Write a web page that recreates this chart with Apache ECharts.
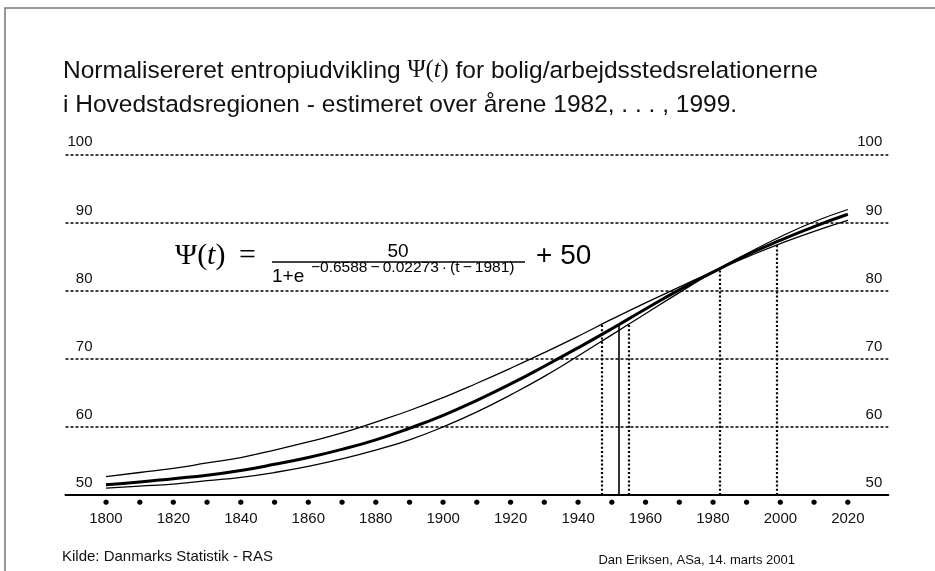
<!DOCTYPE html>
<html>
<head>
<meta charset="utf-8">
<title>Normaliseret entropiudvikling</title>
<script src="https://cdn.jsdelivr.net/npm/echarts@6/dist/echarts.min.js"></script>
<style>
html, body, #main {width: 100%; height: 100%; margin: 0; background: #fff; overflow: hidden;}
</style>
</head>
<body>
<div id="main"></div>
<script>
// hvert 10. år
var years = [1800, 1810, 1820, 1830, 1840, 1850, 1860, 1870, 1880, 1890, 1900, 1910,
             1920, 1930, 1940, 1950, 1960, 1970, 1980, 1990, 2000, 2010, 2020];
// den tykke kurve (estimatet)
var psiFit = [51.5, 51.9, 52.4, 52.9, 53.6, 54.5, 55.5, 56.7, 58.1, 59.8, 61.7, 63.9,
              66.3, 68.9, 71.6, 74.4, 77.3, 80.1, 82.7, 85.2, 87.4, 89.4, 91.2];
// tynd kurve, øverst i venstre side
var psiUpper = [52.7, 53.3, 53.9, 54.7, 55.5, 56.6, 57.8, 59.1, 60.7, 62.4, 64.3, 66.4,
                68.6, 70.9, 73.3, 75.8, 78.2, 80.5, 82.8, 84.9, 86.9, 88.7, 90.3];
// tynd kurve, nederst i venstre side
var psiLower = [51.0, 51.3, 51.6, 52.1, 52.6, 53.3, 54.2, 55.3, 56.6, 58.1, 60.0, 62.2,
                64.7, 67.4, 70.4, 73.5, 76.6, 79.7, 82.7, 85.4, 87.9, 90.1, 91.9];
var tickYears = [1800, 1810, 1820, 1830, 1840, 1850, 1860, 1870, 1880, 1890, 1900, 1910,
                 1920, 1930, 1940, 1950, 1960, 1970, 1980, 1990, 2000, 2010, 2020];
// lodrette hjælpelinjer (prikkede) og deres topniveau
var refYears = [1947, 1955, 1982, 1999];
var refTops = [75, 75, 83, 87.2];
// fuldt optrukket linje ved Psi = 75
var midYear = 1952;
var midTop = 75;

var sans = '"Liberation Sans", Arial, sans-serif';
var serif = '"Liberation Serif", "DejaVu Serif", serif';

function pairs(vals) {
  return years.map(function (y, i) { return [y, vals[i]]; });
}

var guides = refYears.map(function (y, i) {
  return [{coord: [y, 50]}, {coord: [y, refTops[i]]}];
});
guides.push([
  {coord: [midYear, 50], lineStyle: {type: 'solid', width: 1.6, color: '#000'}},
  {coord: [midYear, midTop], lineStyle: {type: 'solid', width: 1.6, color: '#000'}}
]);

var chart = echarts.init(document.getElementById('main'));
var option = {
  animation: false,
  backgroundColor: '#fff',
  title: {
    left: 58,
    top: 49,
    text: '{r|Normalisereret entropiudvikling }{g|Ψ(}{i|t}{g|)}{r| for bolig/arbejdsstedsrelationerne}\n' +
          '{r|i Hovedstadsregionen - estimeret over årene 1982, . . . , 1999.}',
    textStyle: {
      fontWeight: 'normal',
      rich: {
        r: {fontFamily: sans, fontSize: 24.5, fontWeight: 'normal', color: '#111', lineHeight: 34},
        g: {fontFamily: serif, fontSize: 24.5, fontWeight: 'normal', color: '#111', lineHeight: 34},
        i: {fontFamily: serif, fontStyle: 'italic', fontWeight: 'normal', fontSize: 24.5, color: '#111', lineHeight: 34}
      }
    }
  },
  grid: {left: 65.5, right: 46.7, top: 154.3, bottom: 76},
  xAxis: {
    type: 'value',
    min: 1788,
    max: 2032,
    axisLine: {show: true, lineStyle: {color: '#000', width: 2}},
    axisTick: {show: false},
    splitLine: {show: false},
    axisLabel: {
      customValues: tickYears,
      margin: 3,
      formatter: function (v) {
        return v % 20 === 0 ? '{d|●}\n{y|' + v + '}' : '{d|●}';
      },
      rich: {
        d: {fontFamily: '"DejaVu Sans"', fontSize: 7, lineHeight: 8, color: '#000'},
        y: {fontFamily: sans, fontSize: 15, lineHeight: 26, color: '#111'}
      }
    }
  },
  yAxis: [{
    type: 'value',
    min: 50,
    max: 100,
    interval: 10,
    axisLine: {show: false},
    axisTick: {show: false},
    splitLine: {show: true, lineStyle: {color: '#000', width: 1.5, type: [3, 2]}},
    axisLabel: {
      inside: true, margin: 27, align: 'right', verticalAlign: 'bottom',
      lineHeight: 18, padding: [0, 0, 3, 0],
      fontFamily: sans, fontSize: 15, color: '#111'
    }
  }, {
    type: 'value',
    position: 'right',
    min: 50,
    max: 100,
    interval: 10,
    axisLine: {show: false},
    axisTick: {show: false},
    splitLine: {show: false},
    axisLabel: {
      inside: true, margin: 6, align: 'right', verticalAlign: 'bottom',
      lineHeight: 18, padding: [0, 0, 3, 0],
      fontFamily: sans, fontSize: 15, color: '#111'
    }
  }],
  series: [{
    type: 'line',
    data: pairs(psiUpper),
    smooth: true,
    showSymbol: false,
    lineStyle: {color: '#000', width: 1.3}
  }, {
    type: 'line',
    data: pairs(psiLower),
    smooth: true,
    showSymbol: false,
    lineStyle: {color: '#000', width: 1.3}
  }, {
    type: 'line',
    data: pairs(psiFit),
    smooth: true,
    showSymbol: false,
    lineStyle: {color: '#000', width: 3},
    markLine: {
      silent: true,
      symbol: ['none', 'none'],
      label: {show: false},
      lineStyle: {color: '#000', width: 2.2, type: [2, 2.2]},
      data: guides
    }
  }],
  graphic: [
    // ramme
    {type: 'rect', shape: {x: 5, y: 8, width: 960, height: 600},
     style: {fill: 'none', stroke: '#777', lineWidth: 1.5}, silent: true},
    // formlen
    {type: 'text', x: 175, y: 256,
     style: {text: '{g|Ψ(}{i|t}{g|) \u2009=}', verticalAlign: 'middle',
       rich: {
         g: {fontFamily: serif, fontSize: 30, fill: '#000'},
         i: {fontFamily: serif, fontStyle: 'italic', fontSize: 30, fill: '#000'}
       }}},
    {type: 'text', x: 398, y: 252,
     style: {text: '50', fontFamily: sans, fontSize: 19, fill: '#000', align: 'center', verticalAlign: 'middle'}},
    {type: 'line', shape: {x1: 272, y1: 262, x2: 525, y2: 262},
     style: {stroke: '#000', lineWidth: 1.3}},
    {type: 'text', x: 272, y: 277,
     style: {text: '1+e', fontFamily: sans, fontSize: 19, fill: '#000', verticalAlign: 'middle'}},
    {type: 'text', x: 311, y: 268,
     style: {text: '−0.6588\u2009−\u20090.02273\u2009·\u2009(t\u2009−\u20091981)', fontFamily: sans, fontSize: 15.5, fill: '#000', verticalAlign: 'middle'}},
    {type: 'text', x: 536, y: 256,
     style: {text: '+ 50', fontFamily: sans, fontSize: 28, fill: '#000', verticalAlign: 'middle'}},
    // kilder
    {type: 'text', x: 62, y: 557,
     style: {text: 'Kilde: Danmarks Statistik - RAS', fontFamily: sans, fontSize: 15, fill: '#111', verticalAlign: 'middle'}},
    {type: 'text', x: 795, y: 560,
     style: {text: 'Dan Eriksen, ASa, 14. marts 2001', fontFamily: sans, fontSize: 13, fill: '#111', align: 'right', verticalAlign: 'middle'}}
  ]
};
chart.setOption(option);
</script>
</body>
</html>
